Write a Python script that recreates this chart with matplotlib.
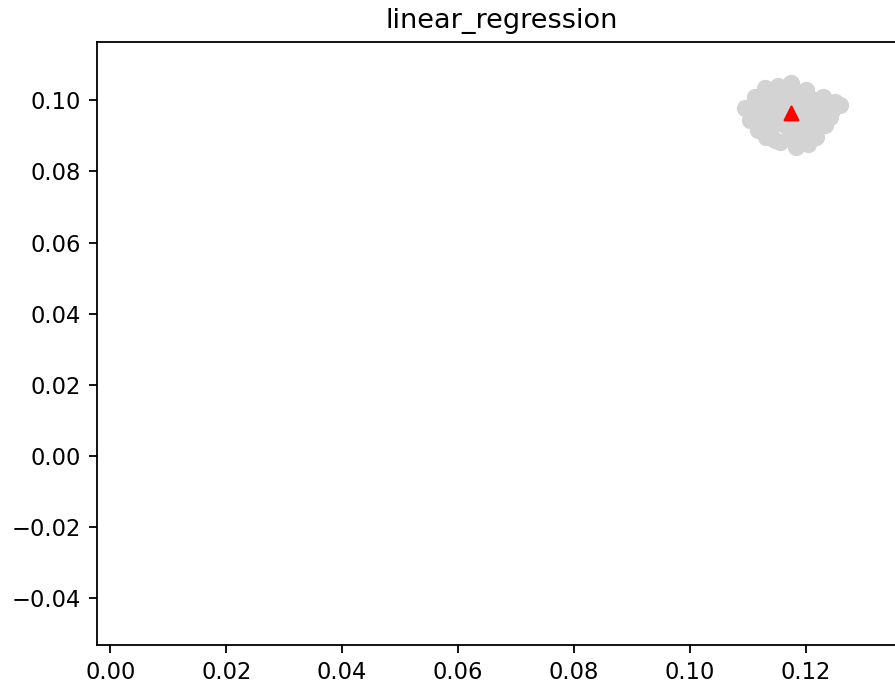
import matplotlib
matplotlib.use("Agg")
import matplotlib.pyplot as plt

sample_x = [0.11751, 0.11291, 0.10946, 0.11032, 0.11320, 0.11838, 0.12183,
            0.12585, 0.12292, 0.12010, 0.11515, 0.11118, 0.11170, 0.11550,
            0.12033, 0.12326, 0.12447, 0.12154, 0.11377, 0.11722, 0.11895,
            0.11636, 0.11463, 0.11981, 0.11722, 0.11291, 0.12102, 0.11800,
            0.11205, 0.11550, 0.11895, 0.12240, 0.12154, 0.11377, 0.11809,
            0.11550, 0.11981, 0.11118, 0.12412, 0.11722, 0.11205, 0.11463,
            0.11895, 0.12326, 0.12499, 0.12067, 0.11636, 0.11377]
sample_y = [0.10486, 0.10346, 0.09784, 0.09446, 0.08977, 0.08696, 0.08977,
            0.09868, 0.10101, 0.10290, 0.10402, 0.10093, 0.09165, 0.08828,
            0.08771, 0.09306, 0.09727, 0.10008, 0.09868, 0.10008, 0.09446,
            0.09306, 0.09502, 0.09727, 0.09024, 0.09446, 0.09306, 0.09600,
            0.09727, 0.10149, 0.10149, 0.09727, 0.09446, 0.09165, 0.09221,
            0.09727, 0.09024, 0.09587, 0.09531, 0.10290, 0.10008, 0.08884,
            0.09868, 0.10008, 0.09952, 0.09165, 0.09671, 0.10233]

# mean of the samples (red triangle)
mean_x = [0.1174]
mean_y = [0.0964]

dpi = 163
fig = plt.figure(figsize=(895 / dpi, 684 / dpi), dpi=dpi)
# the original screenshot is cropped, so the axes run past the right edge
ax = fig.add_axes([97 / 895, 39 / 684, 809 / 895, 603 / 684])

ax.scatter(sample_x, sample_y, c="lightgray", s=44)
ax.scatter(mean_x, mean_y, c="r", marker="^", s=36)

ax.set_xlim(-0.0023, 0.1373)
ax.set_ylim(-0.0531, 0.1164)
ax.set_title("linear_regression")

fig.savefig("out.png", dpi=dpi)
